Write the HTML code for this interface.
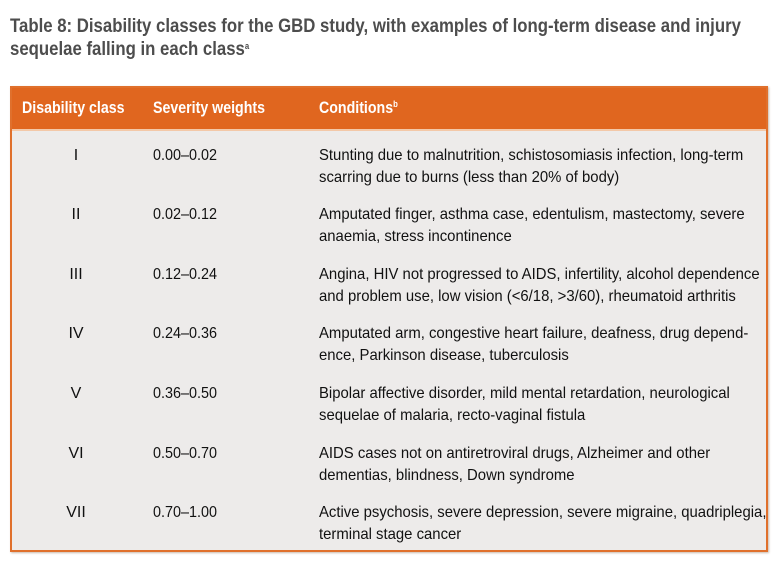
<!DOCTYPE html>
<html><head><meta charset="utf-8"><style>
body{margin:0;width:775px;height:562px;background:#fff;font-family:"Liberation Sans",sans-serif;position:relative;overflow:hidden}
.t{position:absolute;left:10px;color:#4d4d4d;font-weight:bold;font-size:19.5px;white-space:nowrap;line-height:23px;transform:scaleX(0.86);transform-origin:0 0}
.box{position:absolute;left:10px;top:86px;width:754px;height:462px;border:2px solid #e0702c;background:#edebea;box-shadow:1px 1px 2px #c9b9ac}
.hd{position:absolute;left:0;top:0;width:754px;height:41px;background:#e0661f;border-bottom:2px solid #f3c8a8}
.h{position:absolute;top:11px;color:#fff;font-weight:bold;font-size:16.5px;white-space:nowrap;transform:scaleX(0.86);transform-origin:0 0}
.r{position:absolute;font-size:16px;line-height:21.5px;color:#111;white-space:nowrap}
.c{left:0;width:128px;text-align:center}
.s{left:141px;transform:scaleX(0.9);transform-origin:0 0}
.d{left:307px;transform:scaleX(0.93);transform-origin:0 0}
sup{font-size:9px;vertical-align:6px;line-height:0}
</style></head><body>
<div class="t" style="top:15px">Table 8: Disability classes for the GBD study, with examples of long-term disease and injury</div>
<div class="t" style="top:38px">sequelae falling in each class<sup>a</sup></div>
<div class="box">
<div class="hd">
<div class="h" style="left:10px">Disability class</div>
<div class="h" style="left:141px">Severity weights</div>
<div class="h" style="left:307px">Conditions<sup>b</sup></div>
</div>
<div class="r c" style="top:57px">I</div><div class="r s" style="top:57px">0.00–0.02</div><div class="r d" style="top:57px">Stunting due to malnutrition, schistosomiasis infection, long-term<br>scarring due to burns (less than 20% of body)</div>
<div class="r c" style="top:116px">II</div><div class="r s" style="top:116px">0.02–0.12</div><div class="r d" style="top:116px">Amputated finger, asthma case, edentulism, mastectomy, severe<br>anaemia, stress incontinence</div>
<div class="r c" style="top:176px">III</div><div class="r s" style="top:176px">0.12–0.24</div><div class="r d" style="top:176px">Angina, HIV not progressed to AIDS, infertility, alcohol dependence<br>and problem use, low vision (&lt;6/18, &gt;3/60), rheumatoid arthritis</div>
<div class="r c" style="top:235px">IV</div><div class="r s" style="top:235px">0.24–0.36</div><div class="r d" style="top:235px">Amputated arm, congestive heart failure, deafness, drug depend-<br>ence, Parkinson disease, tuberculosis</div>
<div class="r c" style="top:295px">V</div><div class="r s" style="top:295px">0.36–0.50</div><div class="r d" style="top:295px">Bipolar affective disorder, mild mental retardation, neurological<br>sequelae of malaria, recto-vaginal fistula</div>
<div class="r c" style="top:355px">VI</div><div class="r s" style="top:355px">0.50–0.70</div><div class="r d" style="top:355px">AIDS cases not on antiretroviral drugs, Alzheimer and other<br>dementias, blindness, Down syndrome</div>
<div class="r c" style="top:414px">VII</div><div class="r s" style="top:414px">0.70–1.00</div><div class="r d" style="top:414px">Active psychosis, severe depression, severe migraine, quadriplegia,<br>terminal stage cancer</div>
</div>
</body></html>
